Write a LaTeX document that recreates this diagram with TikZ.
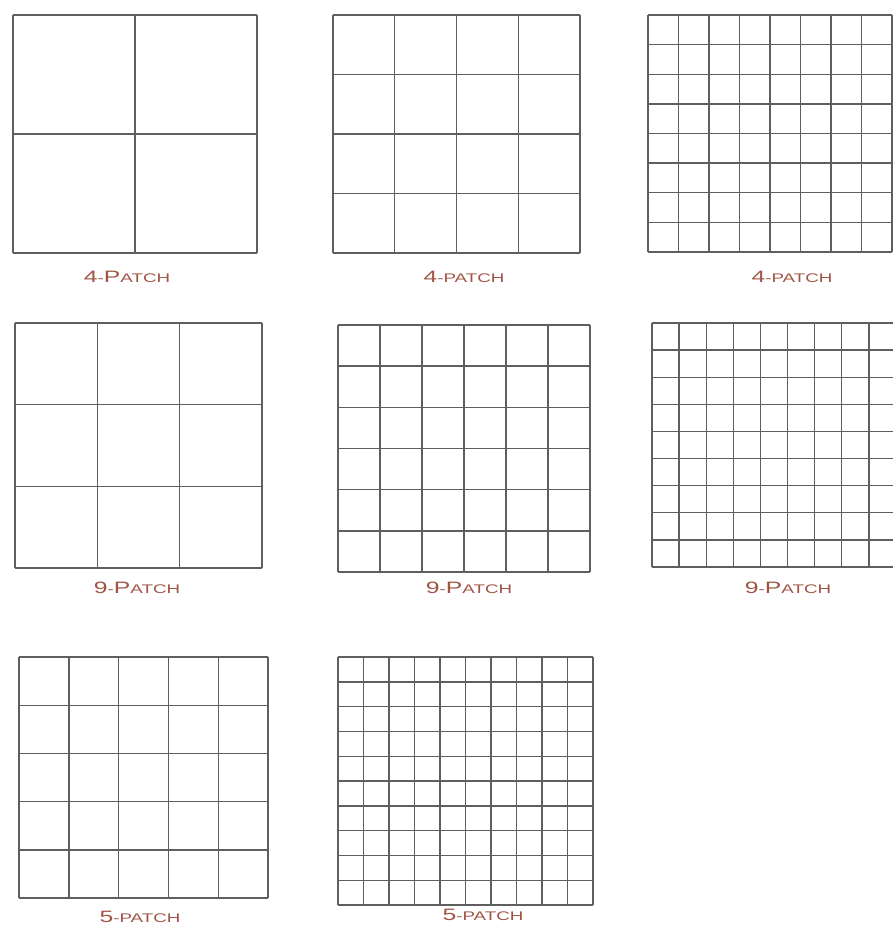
\documentclass[tikz,border=0pt]{standalone}
\usepackage{fontspec}
\newfontfamily\patchfont[FakeStretch=1.5]{Liberation Sans}
\usetikzlibrary{positioning}

\definecolor{gridgray}{RGB}{95,95,95}
\definecolor{patchred}{RGB}{160,85,70}

% big letter and small caps part of a label
\newcommand{\bigch}[1]{{\fontsize{16.5}{18}\selectfont #1}}
\newcommand{\smallch}[1]{{\fontsize{12.5}{14}\selectfont #1}}

% grid from (x0,y0) to (x1,y1) with n cells each way
\newcommand{\patchgrid}[5]{%
  \foreach \i in {0,...,#5} {
    \draw[gridline] ({#1+(#3-#1)*\i/#5},#2) -- ({#1+(#3-#1)*\i/#5},#4);
    \draw[gridline] (#1,{#2+(#4-#2)*\i/#5}) -- (#3,{#2+(#4-#2)*\i/#5});
  }}

\begin{document}
\begin{tikzpicture}[
  x=1pt, y=-1pt,
  gridline/.style={draw=gridgray, line width=1.4pt, line cap=square},
  patchlabel/.style={text=patchred, font=\patchfont, inner sep=0pt, anchor=center}
]
  \clip (0,0) rectangle (893,927);
  \fill[white] (0,0) rectangle (893,927);

  % top row
  \patchgrid{13}{15}{257}{253}{2}
  \patchgrid{333}{15}{580}{253}{4}
  \patchgrid{648}{15}{892}{252}{8}
  \node[patchlabel] (fourA) at (127,277) {\bigch{4}\smallch{-}\bigch{P}\smallch{ATCH}};
  \node[patchlabel] (fourB) at (464,277) {\bigch{4}\smallch{-PATCH}};
  \node[patchlabel] (fourC) at (792,277) {\bigch{4}\smallch{-PATCH}};

  % middle row
  \patchgrid{15}{323}{262}{568}{3}
  \patchgrid{338}{325}{590}{572}{6}
  \patchgrid{652}{323}{896}{567}{9}
  \node[patchlabel] (nineA) at (137,588) {\bigch{9}\smallch{-}\bigch{P}\smallch{ATCH}};
  \node[patchlabel] (nineB) at (469,588) {\bigch{9}\smallch{-}\bigch{P}\smallch{ATCH}};
  \node[patchlabel] (nineC) at (788,588) {\bigch{9}\smallch{-}\bigch{P}\smallch{ATCH}};

  % bottom row
  \patchgrid{19}{657}{268}{898}{5}
  \patchgrid{338}{657}{593}{905}{10}
  \node[patchlabel] (fiveA) at (140,917) {\bigch{5}\smallch{-PATCH}};
  \node[patchlabel] (fiveB) at (483,915) {\bigch{5}\smallch{-PATCH}};
\end{tikzpicture}
\end{document}
